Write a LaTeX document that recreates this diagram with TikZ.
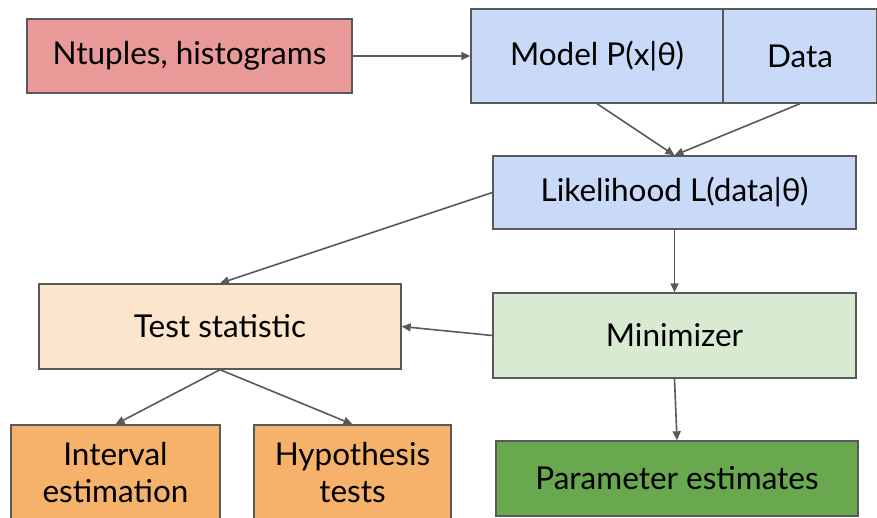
\documentclass[tikz,border=0pt]{standalone}
\usepackage{fontspec}
\setmainfont{Lato}
\usetikzlibrary{arrows.meta}
\definecolor{redbox}{HTML}{EA9999}
\definecolor{bluebox}{HTML}{C9DAF8}
\definecolor{peachbox}{HTML}{FCE5CD}
\definecolor{mintbox}{HTML}{D9EAD3}
\definecolor{orangebox}{HTML}{F6B26B}
\definecolor{greenbox}{HTML}{6AA84F}
\definecolor{edgegray}{HTML}{595959}
\begin{document}
\begin{tikzpicture}[
          x=1pt, y=-1pt,
          font=\fontsize{31.5}{37}\selectfont,
          box/.style={draw=edgegray, line width=1.4pt, inner sep=0pt, align=center},
          flow/.style={draw=edgegray, line width=1.6pt, -{Triangle[length=9pt,width=8pt]}}
        ]
        \useasboundingbox (0,0) rectangle (877,518);
        \clip (0,0) rectangle (877,518);
        \node[box, fill=redbox, minimum width=325pt, minimum height=74pt] (ntup) at (189.5,56) {Ntuples, histograms};
        \node[box, fill=bluebox, minimum width=252pt, minimum height=94pt] (model) at (597,56) {Model P(x|θ)};
        \node[box, fill=bluebox, minimum width=154pt, minimum height=94pt] (data) at (800,56) {Data};
        \node[box, fill=bluebox, minimum width=363pt, minimum height=73pt] (lik) at (674.5,192.5) {Likelihood L(data|θ)};
        \node[box, fill=peachbox, minimum width=362pt, minimum height=85pt] (test) at (220,326.5) {Test statistic};
        \node[box, fill=mintbox, minimum width=363pt, minimum height=85pt] (mini) at (674.5,335.5) {Minimizer};
        \node[box, fill=orangebox, minimum width=209pt, minimum height=96pt] (intv) at (115.5,473) {Interval\\estimation};
        \node[box, fill=orangebox, minimum width=197pt, minimum height=96pt] (hyp) at (352.5,473) {Hypothesis\\tests};
        \node[box, fill=greenbox, minimum width=362pt, minimum height=75pt] (par) at (677,478.5) {Parameter estimates};
        % connectors
        \draw[flow] (ntup) -- (model);
        \draw[flow] (model.south) -- (lik.north);
        \draw[flow] (data.south) -- (lik.north);
        \draw[flow] (lik.west) -- (test.north);
        \draw[flow] (lik.south) -- (mini.north);
        \draw[flow] (mini.west) -- (test.east);
        \draw[flow] (test.south) -- (intv.north);
        \draw[flow] (test.south) -- (hyp.north);
        \draw[flow] (mini.south) -- (par.north);
        \end{tikzpicture}
\end{document}
